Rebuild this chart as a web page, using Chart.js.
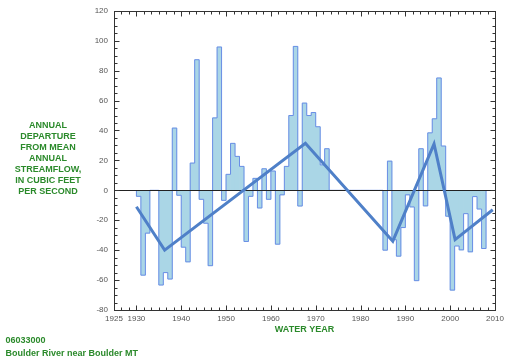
<!DOCTYPE html>
<html><head><meta charset="utf-8">
<script src="https://cdn.jsdelivr.net/npm/chart.js@4.4.1/dist/chart.umd.min.js"></script>
<style>html,body{margin:0;padding:0;background:#fff;}canvas{display:block;}</style>
</head><body>
<canvas id="c" width="510" height="362"></canvas>
<script>
// ---- data (water year, departure from mean annual streamflow, ft3/s) ----
const years = [1930,1931,1932,1933,1934,1935,1936,1937,1938,1939,
  1940,1941,1942,1943,1944,1945,1946,1947,1948,1949,
  1950,1951,1952,1953,1954,1955,1956,1957,1958,1959,
  1960,1961,1962,1963,1964,1965,1966,1967,1968,1969,
  1970,1971,1972,1973,1974,1975,1976,1977,1978,1979,
  1980,1981,1982,1983,1984,1985,1986,1987,1988,1989,
  1990,1991,1992,1993,1994,1995,1996,1997,1998,1999,
  2000,2001,2002,2003,2004,2005,2006,2007];
const departures = [-4,-56.7,-28.6,null,null,-63.3,-55,-59.3,41.6,-3.3,
  -38,-47.8,18.2,87.3,-6,-22,-50.4,48.4,95.8,-6.7,
  10.7,31.4,22.7,16,-34.2,-4,8,-11.8,14.4,-6,
  12.9,-36,-3,16,50,96.2,-10.5,58.3,50,52,
  42.5,17,27.8,null,null,null,null,null,null,null,
  null,null,null,null,null,-40,19.5,-33,-44,-24.9,
  -3,-11.1,-60.4,27.8,-10.4,38.4,47.8,75.1,29.6,-17.3,
  -66.7,-37.2,-39.8,-15.6,-41.1,-4.2,-12.5,-38.9];
const trendYears = [1930.0, 1936.3, 1967.7, 1987.2, 1996.4, 2001.1, 2009.5];
const trendValues = [-11, -40, 31.5, -34, 31, -33, -13];
const xTickLabels = [1925,1930,1940,1950,1960,1970,1980,1990,2000,2010];
const yTickValues = [-80,-60,-40,-20,0,20,40,60,80,100,120];
const yTitleLines = ['ANNUAL','DEPARTURE','FROM MEAN','ANNUAL','STREAMFLOW,','IN CUBIC FEET','PER SECOND'];
const xTitle = 'WATER YEAR';
const stationId = '06033000';
const stationName = 'Boulder River near Boulder MT';

// ---- styles ----
const GREEN = '#2b8a2b';
const FONT = '"Liberation Sans", Arial, Helvetica, sans-serif';
const X_MIN = 1925, X_MAX = 2010, X_MINOR = 10/6;
const Y_MIN = -80, Y_MAX = 120, Y_MINOR = 5;

// bars: each water year spans one year on the axis
const barData = years.map((yr, i) => ({x: yr + 0.5, y: departures[i]}));
// stepped outline of the bars
const outline = [{x: years[0], y: 0}];
years.forEach((yr, i) => outline.push({x: yr, y: departures[i] ?? 0}));
const lastI = years.length - 1;
outline.push({x: years[lastI] + 1, y: departures[lastI] ?? 0});
outline.push({x: years[lastI] + 1, y: 0});
const trendData = trendYears.map((yr, i) => ({x: yr, y: trendValues[i]}));

const crisp = v => Math.round(v) + 0.5;

const axisFrame = {
  id: 'axisFrame',
  afterDatasetDraw(chart, args) {
    if (args.index !== 1) return;
    const {ctx, chartArea: a, scales: {y}} = chart;
    const py = crisp(y.getPixelForValue(0));
    ctx.save();
    ctx.strokeStyle = '#222'; ctx.lineWidth = 1;
    ctx.beginPath(); ctx.moveTo(a.left, py); ctx.lineTo(a.right, py); ctx.stroke();
    ctx.restore();
  },
  afterDatasetsDraw(chart) {
    const {ctx, chartArea: a, scales: {x, y}} = chart;
    ctx.save();
    ctx.strokeStyle = '#333'; ctx.lineWidth = 1;
    const L = crisp(a.left), R = crisp(a.right), T = crisp(a.top), B = crisp(a.bottom);
    ctx.strokeRect(L, T, R - L, B - T);
    ctx.beginPath();
    for (let v = Y_MIN; v <= Y_MAX; v += Y_MINOR) {
      const p = crisp(y.getPixelForValue(v));
      const len = (v % 20 === 0) ? 5 : 3;
      ctx.moveTo(L, p); ctx.lineTo(L + len, p);
      ctx.moveTo(R, p); ctx.lineTo(R - len, p);
    }
    for (let i = 0; ; i++) {
      const v = X_MIN + i * X_MINOR;
      if (v > X_MAX + 1e-6) break;
      const p = crisp(x.getPixelForValue(v));
      const major = Math.abs(v - Math.round(v / 10) * 10) < 1e-6;
      const len = major ? 5 : 3;
      ctx.moveTo(p, B); ctx.lineTo(p, B - len);
      ctx.moveTo(p, T); ctx.lineTo(p, T + len);
    }
    ctx.stroke();
    ctx.restore();
  },
  afterDraw(chart) {
    const {ctx, chartArea: a} = chart;
    ctx.save();
    ctx.fillStyle = GREEN;
    ctx.font = 'bold 9px ' + FONT;
    ctx.textAlign = 'center'; ctx.textBaseline = 'middle';
    yTitleLines.forEach((t, i) => ctx.fillText(t, 48, 126 + i * 11));
    ctx.fillText(xTitle, (a.left + a.right) / 2, 329.5);
    ctx.textAlign = 'left';
    ctx.fillText(stationId, 5.5, 341);
    ctx.fillText(stationName, 5.5, 353.5);
    ctx.restore();
  }
};

new Chart(document.getElementById('c'), {
  type: 'bar',
  data: {
    datasets: [
      {type: 'bar', data: barData, backgroundColor: '#aad6e6', borderWidth: 0,
       barPercentage: 1, categoryPercentage: 1, order: 2},
      {type: 'line', data: outline, stepped: true, borderColor: '#6a8ee6', borderWidth: 1,
       pointRadius: 0, fill: false, order: 1},
      {type: 'line', data: trendData, borderColor: '#4f80c8', borderWidth: 3,
       pointRadius: 0, fill: false, tension: 0, order: 0}
    ]
  },
  options: {
    responsive: false,
    animation: false,
    events: [],
    layout: {padding: {left: 0, right: 15, top: 10, bottom: 0}},
    plugins: {legend: {display: false}, tooltip: {enabled: false}},
    scales: {
      x: {
        type: 'linear', min: X_MIN, max: X_MAX, offset: false,
        grid: {display: false, drawTicks: false, offset: false},
        border: {display: false},
        afterBuildTicks: s => { s.ticks = xTickLabels.map(v => ({value: v})); },
        afterFit: s => { s.height = 52; },
        ticks: {autoSkip: false, maxRotation: 0, padding: 4, color: '#555',
                font: {size: 8, family: FONT}, callback: v => String(v)}
      },
      y: {
        type: 'linear', min: Y_MIN, max: Y_MAX,
        grid: {display: false, drawTicks: false},
        border: {display: false},
        afterBuildTicks: s => { s.ticks = yTickValues.map(v => ({value: v})); },
        afterFit: s => { s.width = 114; },
        ticks: {padding: 6, color: '#555', font: {size: 8, family: FONT}}
      }
    }
  },
  plugins: [axisFrame]
});
</script>
</body></html>
